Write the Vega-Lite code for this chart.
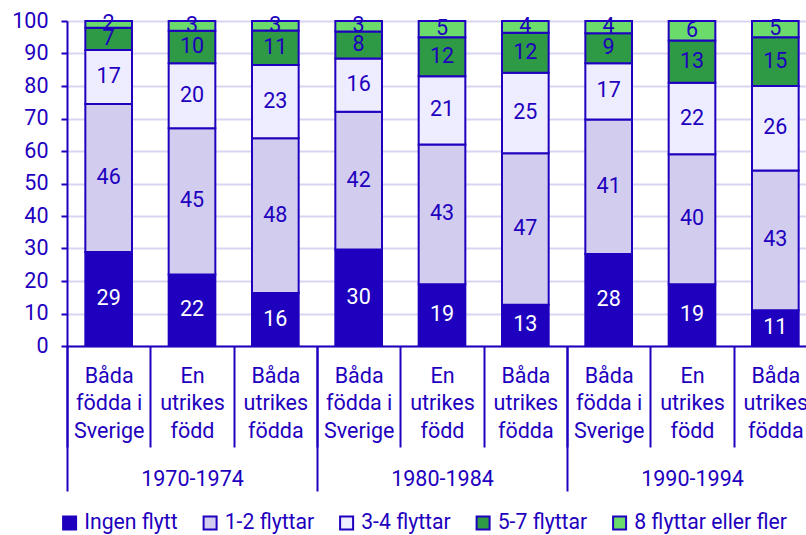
{
  "$schema": "https://vega.github.io/schema/vega-lite/v6.json",
  "autosize": "none",
  "width": 739,
  "height": 325,
  "padding": {"left": 67, "top": 21, "right": 0, "bottom": 189},
  "background": "white",
  "config": {
    "font": "Roboto",
    "view": {"stroke": null},
    "axis": {"labelFont": "Roboto", "labelColor": "#1e00be", "labelFontSize": 21.5, "domainColor": "#1e00be", "tickColor": "#1e00be"}
  },
  "data": {
    "values": [
      {"key": "1970-1974|Båda|födda i|Sverige", "period": "1970-1974", "cat": "Ingen flytt", "o": 1, "v": 28.9},
      {"key": "1970-1974|Båda|födda i|Sverige", "period": "1970-1974", "cat": "1-2 flyttar", "o": 2, "v": 45.6},
      {"key": "1970-1974|Båda|födda i|Sverige", "period": "1970-1974", "cat": "3-4 flyttar", "o": 3, "v": 16.6},
      {"key": "1970-1974|Båda|födda i|Sverige", "period": "1970-1974", "cat": "5-7 flyttar", "o": 4, "v": 6.8},
      {"key": "1970-1974|Båda|födda i|Sverige", "period": "1970-1974", "cat": "8 flyttar eller fler", "o": 5, "v": 2.1},
      {"key": "1970-1974|En|utrikes|född", "period": "1970-1974", "cat": "Ingen flytt", "o": 1, "v": 22},
      {"key": "1970-1974|En|utrikes|född", "period": "1970-1974", "cat": "1-2 flyttar", "o": 2, "v": 45},
      {"key": "1970-1974|En|utrikes|född", "period": "1970-1974", "cat": "3-4 flyttar", "o": 3, "v": 20},
      {"key": "1970-1974|En|utrikes|född", "period": "1970-1974", "cat": "5-7 flyttar", "o": 4, "v": 10},
      {"key": "1970-1974|En|utrikes|född", "period": "1970-1974", "cat": "8 flyttar eller fler", "o": 5, "v": 3},
      {"key": "1970-1974|Båda|utrikes|födda", "period": "1970-1974", "cat": "Ingen flytt", "o": 1, "v": 16.3},
      {"key": "1970-1974|Båda|utrikes|födda", "period": "1970-1974", "cat": "1-2 flyttar", "o": 2, "v": 47.6},
      {"key": "1970-1974|Båda|utrikes|födda", "period": "1970-1974", "cat": "3-4 flyttar", "o": 3, "v": 22.6},
      {"key": "1970-1974|Båda|utrikes|födda", "period": "1970-1974", "cat": "5-7 flyttar", "o": 4, "v": 10.6},
      {"key": "1970-1974|Båda|utrikes|födda", "period": "1970-1974", "cat": "8 flyttar eller fler", "o": 5, "v": 2.9},
      {"key": "1980-1984|Båda|födda i|Sverige", "period": "1980-1984", "cat": "Ingen flytt", "o": 1, "v": 29.7},
      {"key": "1980-1984|Båda|födda i|Sverige", "period": "1980-1984", "cat": "1-2 flyttar", "o": 2, "v": 42.4},
      {"key": "1980-1984|Båda|födda i|Sverige", "period": "1980-1984", "cat": "3-4 flyttar", "o": 3, "v": 16.4},
      {"key": "1980-1984|Båda|födda i|Sverige", "period": "1980-1984", "cat": "5-7 flyttar", "o": 4, "v": 8.3},
      {"key": "1980-1984|Båda|födda i|Sverige", "period": "1980-1984", "cat": "8 flyttar eller fler", "o": 5, "v": 3.2},
      {"key": "1980-1984|En|utrikes|född", "period": "1980-1984", "cat": "Ingen flytt", "o": 1, "v": 19},
      {"key": "1980-1984|En|utrikes|född", "period": "1980-1984", "cat": "1-2 flyttar", "o": 2, "v": 43},
      {"key": "1980-1984|En|utrikes|född", "period": "1980-1984", "cat": "3-4 flyttar", "o": 3, "v": 21},
      {"key": "1980-1984|En|utrikes|född", "period": "1980-1984", "cat": "5-7 flyttar", "o": 4, "v": 12},
      {"key": "1980-1984|En|utrikes|född", "period": "1980-1984", "cat": "8 flyttar eller fler", "o": 5, "v": 5},
      {"key": "1980-1984|Båda|utrikes|födda", "period": "1980-1984", "cat": "Ingen flytt", "o": 1, "v": 12.7},
      {"key": "1980-1984|Båda|utrikes|födda", "period": "1980-1984", "cat": "1-2 flyttar", "o": 2, "v": 46.6},
      {"key": "1980-1984|Båda|utrikes|födda", "period": "1980-1984", "cat": "3-4 flyttar", "o": 3, "v": 24.8},
      {"key": "1980-1984|Båda|utrikes|födda", "period": "1980-1984", "cat": "5-7 flyttar", "o": 4, "v": 12.3},
      {"key": "1980-1984|Båda|utrikes|födda", "period": "1980-1984", "cat": "8 flyttar eller fler", "o": 5, "v": 3.6},
      {"key": "1990-1994|Båda|födda i|Sverige", "period": "1990-1994", "cat": "Ingen flytt", "o": 1, "v": 28.3},
      {"key": "1990-1994|Båda|födda i|Sverige", "period": "1990-1994", "cat": "1-2 flyttar", "o": 2, "v": 41.4},
      {"key": "1990-1994|Båda|födda i|Sverige", "period": "1990-1994", "cat": "3-4 flyttar", "o": 3, "v": 17.3},
      {"key": "1990-1994|Båda|födda i|Sverige", "period": "1990-1994", "cat": "5-7 flyttar", "o": 4, "v": 9.2},
      {"key": "1990-1994|Båda|födda i|Sverige", "period": "1990-1994", "cat": "8 flyttar eller fler", "o": 5, "v": 3.8},
      {"key": "1990-1994|En|utrikes|född", "period": "1990-1994", "cat": "Ingen flytt", "o": 1, "v": 19},
      {"key": "1990-1994|En|utrikes|född", "period": "1990-1994", "cat": "1-2 flyttar", "o": 2, "v": 40},
      {"key": "1990-1994|En|utrikes|född", "period": "1990-1994", "cat": "3-4 flyttar", "o": 3, "v": 22},
      {"key": "1990-1994|En|utrikes|född", "period": "1990-1994", "cat": "5-7 flyttar", "o": 4, "v": 13},
      {"key": "1990-1994|En|utrikes|född", "period": "1990-1994", "cat": "8 flyttar eller fler", "o": 5, "v": 6},
      {"key": "1990-1994|Båda|utrikes|födda", "period": "1990-1994", "cat": "Ingen flytt", "o": 1, "v": 11},
      {"key": "1990-1994|Båda|utrikes|födda", "period": "1990-1994", "cat": "1-2 flyttar", "o": 2, "v": 43},
      {"key": "1990-1994|Båda|utrikes|födda", "period": "1990-1994", "cat": "3-4 flyttar", "o": 3, "v": 26},
      {"key": "1990-1994|Båda|utrikes|födda", "period": "1990-1994", "cat": "5-7 flyttar", "o": 4, "v": 15},
      {"key": "1990-1994|Båda|utrikes|födda", "period": "1990-1994", "cat": "8 flyttar eller fler", "o": 5, "v": 5}
    ]
  },
  "resolve": {"scale": {"x": "independent"}},
  "layer": [
    {
      "mark": {"type": "rule", "opacity": 0},
      "encoding": {
        "x": {
          "field": "period", "type": "nominal", "sort": null,
          "scale": {"paddingInner": 0, "paddingOuter": 0, "range": [0, 750]},
          "axis": {"orient": "bottom", "title": null, "labelAngle": 0, "domain": false, "ticks": true, "tickBand": "extent", "tickSize": 145, "tickWidth": 2, "labelPadding": -23, "labelBaseline": "top"}
        }
      }
    },
    {
      "encoding": {
        "x": {
          "field": "key", "type": "nominal", "sort": null,
          "scale": {"paddingInner": 0, "paddingOuter": 0, "range": [0, 750]},
          "axis": {"orient": "bottom", "title": null, "labelAngle": 0, "labelExpr": "slice(split(datum.value, '|'), 1)", "labelLineHeight": 27.5, "labelBaseline": "top", "domainWidth": 2, "ticks": true, "tickBand": "extent", "tickSize": 101, "tickWidth": 2, "labelPadding": -82}
        },
        "y": {
          "field": "v", "type": "quantitative", "stack": "zero",
          "scale": {"domain": [0, 100]},
          "axis": {"title": null, "values": [0,10,20,30,40,50,60,70,80,90,100], "labelOverlap": false, "domainWidth": 2, "tickSize": 6, "tickWidth": 2, "labelPadding": 13, "gridColor": "#d8d5f1", "gridWidth": 2}
        },
        "order": {"field": "o", "type": "quantitative"}
      },
      "layer": [
        {
          "mark": {"type": "bar", "stroke": "#1e00be", "strokeWidth": 2, "width": {"band": 0.56}},
          "encoding": {
            "color": {
              "field": "cat", "type": "nominal",
              "scale": {
                "domain": ["Ingen flytt", "1-2 flyttar", "3-4 flyttar", "5-7 flyttar", "8 flyttar eller fler"],
                "range": ["#1e00be", "#d2cdef", "#eeecff", "#2e9a46", "#6bdc6b"]
              },
              "legend": {
                "title": null, "orient": "none", "legendX": -8, "legendY": 491, "direction": "horizontal",
                "symbolType": "square", "symbolSize": 169, "symbolStrokeColor": "#1e00be", "symbolStrokeWidth": 2,
                "labelFont": "Roboto", "labelFontSize": 21.2, "labelColor": "#1e00be", "columnPadding": 21.5, "labelOffset": 4
              }
            }
          }
        },
        {
          "mark": {"type": "text", "fontSize": 21.5, "font": "Roboto", "baseline": "middle"},
          "encoding": {
            "y": {
              "field": "v", "type": "quantitative", "stack": "zero", "bandPosition": 0.5,
              "axis": {"title": null, "values": [0,10,20,30,40,50,60,70,80,90,100], "labelOverlap": false, "domainWidth": 2, "tickSize": 6, "tickWidth": 2, "labelPadding": 13, "gridColor": "#d8d5f1", "gridWidth": 2}
            },
            "text": {"field": "v", "type": "quantitative", "format": ".0f"},
            "color": {
              "condition": {"test": "datum.cat === 'Ingen flytt'", "value": "white"},
              "value": "#1e00be"
            }
          }
        }
      ]
    }
  ]
}
